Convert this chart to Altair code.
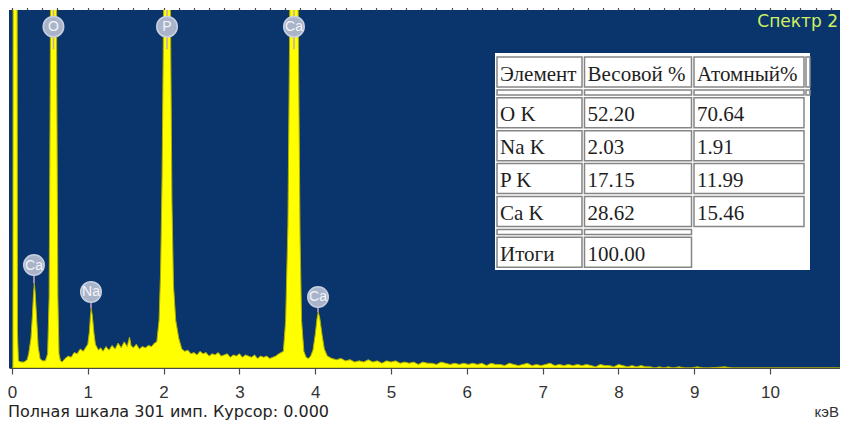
import altair as alt
import pandas as pd

# ---------------- data ----------------
# EDS spectrum: (energy keV, counts)
spectrum_points = [
    (0.000, 0), (0.012, 0), (0.018, 700), (0.062, 700), (0.072, 30), (0.085, 6),
    (0.12, 5), (0.16, 5), (0.20, 7),
    (0.22, 12), (0.25, 25), (0.27, 45), (0.285, 64), (0.295, 71), (0.305, 64),
    (0.325, 42), (0.345, 18), (0.37, 8), (0.40, 6),
    (0.44, 6), (0.47, 12), (0.49, 60), (0.505, 250), (0.52, 600), (0.575, 600),
    (0.59, 250), (0.605, 60), (0.62, 12), (0.64, 6),
    (0.66, 5), (0.70, 8), (0.74, 10), (0.78, 9), (0.82, 13), (0.86, 12),
    (0.90, 16), (0.94, 14), (0.98, 18),
    (1.00, 20), (1.02, 30), (1.035, 44), (1.045, 50), (1.06, 44), (1.08, 30),
    (1.10, 20), (1.14, 15), (1.17, 17), (1.20, 14), (1.24, 18), (1.28, 15),
    (1.32, 19), (1.36, 16), (1.40, 21), (1.44, 17), (1.48, 22), (1.52, 18),
    (1.55, 26), (1.57, 19), (1.60, 17), (1.64, 20), (1.68, 16), (1.72, 18),
    (1.76, 17), (1.80, 19), (1.84, 18), (1.88, 21),
    (1.91, 22), (1.94, 40), (1.96, 80), (1.98, 160), (2.00, 300), (2.015, 600),
    (2.075, 600), (2.09, 300), (2.11, 140), (2.13, 70), (2.16, 40), (2.20, 25),
    (2.24, 16), (2.28, 14), (2.32, 15), (2.36, 12),
    (2.40, 13), (2.44, 11), (2.48, 14), (2.52, 12), (2.56, 13), (2.60, 10),
    (2.64, 12), (2.68, 11), (2.72, 13), (2.76, 10), (2.80, 11), (2.84, 12),
    (2.88, 9), (2.92, 11), (2.96, 10), (3.00, 12), (3.04, 9), (3.08, 11),
    (3.12, 10), (3.16, 9), (3.20, 11), (3.24, 8), (3.28, 10), (3.32, 9),
    (3.36, 10), (3.40, 8), (3.44, 9), (3.48, 10), (3.52, 12),
    (3.58, 14), (3.61, 40), (3.64, 120), (3.665, 300), (3.68, 600), (3.76, 600),
    (3.775, 300), (3.80, 110), (3.82, 40), (3.85, 14),
    (3.88, 9), (3.91, 8), (3.94, 10), (3.97, 15), (4.00, 28), (4.025, 42),
    (4.04, 47), (4.06, 42), (4.09, 28), (4.12, 16), (4.16, 10), (4.22, 8),
    (4.28, 7), (4.34, 8), (4.40, 6),
    (4.46, 7), (4.52, 5), (4.58, 6), (4.64, 5), (4.70, 7), (4.76, 5),
    (4.82, 6), (4.88, 4), (4.94, 6), (5.00, 5), (5.06, 6), (5.12, 4),
    (5.18, 5), (5.24, 4), (5.30, 5), (5.36, 3), (5.42, 5), (5.48, 4),
    (5.54, 4), (5.60, 3), (5.66, 5), (5.72, 4), (5.78, 3), (5.84, 4),
    (5.90, 3), (5.96, 4), (6.02, 3), (6.08, 4), (6.14, 3), (6.20, 4),
    (6.26, 2), (6.32, 4), (6.38, 3), (6.44, 3), (6.50, 2), (6.56, 4),
    (6.62, 3), (6.68, 2), (6.74, 3), (6.80, 4), (6.86, 2), (6.92, 3),
    (6.98, 2), (7.04, 3), (7.10, 4), (7.16, 2), (7.22, 3), (7.28, 2),
    (7.34, 3), (7.40, 2), (7.46, 3), (7.52, 2), (7.58, 3), (7.64, 2),
    (7.70, 1), (7.76, 3), (7.82, 2), (7.88, 2), (7.94, 1), (8.00, 3),
    (8.06, 2), (8.12, 1), (8.18, 2), (8.24, 1), (8.30, 2), (8.36, 1),
    (8.42, 1), (8.48, 0), (8.54, 1), (8.60, 0), (8.66, 1), (8.72, 0),
    (8.80, 1), (8.88, 0), (8.96, 0), (9.04, 1), (9.12, 0), (9.20, 0),
    (9.40, 1), (9.50, 0), (10.92, 0),
]

# peak markers
peak_label_text = ["O", "P", "Ca", "Ca", "Na", "Ca"]
peak_label_kev = [0.547, 2.045, 3.72, 0.29, 1.042, 4.037]
peak_label_counts = [287, 287, 287, 86.6, 64, 59.7]
stick_from_counts = [268, 268, 268, 71, 50, 47]
stick_to_counts = [301, 301, 301, 86.6, 64, 59.7]

# result table
table_header = ["Элемент", "Весовой %", "Атомный%"]
table_elements = ["O K", "Na K", "P K", "Ca K"]
table_weight_pct = [52.20, 2.03, 17.15, 28.62]
table_atomic_pct = [70.64, 1.91, 11.99, 15.46]
table_total_label = "Итоги"
table_total_weight = 100.00

spectrum_name = "Спектр 2"
footer_text = "Полная шкала 301 имп. Курсор: 0.000"
unit_text = "кэВ"
full_scale = 301
major_ticks = list(range(0, 11))
minor_ticks = [round(i * 0.2, 1) for i in range(0, 55)]

# ---------------- styling / layout ----------------
BG = "#0a346c"
YEL = "#ffff00"
W, H = 831, 358
PX0, PY0 = 9, 10  # page offset of plot origin

spec_df = pd.DataFrame(spectrum_points, columns=["kev", "counts"])

xscale = alt.Scale(domain=[-0.0396, 10.923], nice=False, zero=False)
yscale = alt.Scale(domain=[0, full_scale], nice=False, zero=True)

major_axis = alt.Axis(
    values=major_ticks, format="d", grid=False, title=None,
    domainColor="#4a4a4a", tickColor="#4a4a4a", tickSize=6, tickWidth=1.2,
    labelFont="Liberation Sans", labelFontSize=17, labelColor="#333333",
    labelPadding=10, labelOverlap=False, labelFlush=False,
)
minor_axis = alt.Axis(
    values=minor_ticks, labels=False, grid=False, title=None, domain=False,
    tickColor="#4a4a4a", tickSize=3, tickWidth=1.2,
)
y_axis = alt.Axis(
    labels=False, ticks=False, grid=False, title=None,
    domainColor="#9a9a30", domainWidth=1.5,
)

area = alt.Chart(spec_df).mark_area(
    fill=YEL, stroke="#b0b000", strokeWidth=1, clip=True, interpolate="linear"
).encode(
    x=alt.X("kev:Q", scale=xscale, axis=major_axis),
    y=alt.Y("counts:Q", scale=yscale, axis=y_axis),
)
minor = alt.Chart(spec_df).mark_point(opacity=0).encode(
    x=alt.X("kev:Q", scale=xscale, axis=minor_axis),
    y=alt.Y("counts:Q", scale=yscale, axis=None),
)

lab_df = pd.DataFrame({
    "t": peak_label_text, "kev": peak_label_kev, "c": peak_label_counts,
    "s0": stick_from_counts, "s1": stick_to_counts,
})
sticks = alt.Chart(lab_df).mark_rule(color="#c4a8bc", strokeWidth=1.5, clip=True).encode(
    x=alt.X("kev:Q", axis=None), y=alt.Y("s0:Q", axis=None), y2="s1:Q"
)
circles = alt.Chart(lab_df).mark_point(
    shape="circle", filled=True, size=420, fill="#a9b4ca", stroke="#c8d0e0",
    strokeWidth=1.5, opacity=1,
).encode(x=alt.X("kev:Q", axis=None), y=alt.Y("c:Q", axis=None))
circ_text = alt.Chart(lab_df).mark_text(
    color="#f4f4f8", font="Liberation Sans", fontSize=14, baseline="middle",
    align="center", dy=0.5,
).encode(x=alt.X("kev:Q", axis=None), y=alt.Y("c:Q", axis=None), text="t:N")

# ---- table geometry (page coords) ----
t_left, t_top, t_right, t_bottom = 495, 53, 810, 270
col_left0, col_widths, col_gap = 497, [85, 107, 110], 2.5
row_top0, row_heights, row_gap = 57, [30, 5, 30, 30, 30, 30, 5, 30], 2.9

col_x = []
cx = col_left0
for w in col_widths:
    col_x.append((cx, cx + w))
    cx += w + col_gap
row_y = []
cy = row_top0
for h in row_heights:
    row_y.append((cy, cy + h))
    cy += h + row_gap

rows_text = [table_header, None]
for e, wp, ap in zip(table_elements, table_weight_pct, table_atomic_pct):
    rows_text.append([e, f"{wp:.2f}", f"{ap:.2f}"])
rows_text.append(None)
rows_text.append([table_total_label, f"{table_total_weight:.2f}"])
sep_cols = {1: 3, 6: 2}

cells, texts = [], []
for r, (y0, y1) in enumerate(row_y):
    vals = [None] * sep_cols[r] if rows_text[r] is None else rows_text[r]
    for c, v in enumerate(vals):
        x0, x1 = col_x[c]
        cells.append({"x": x0 - PX0, "x2": x1 - PX0, "y": y0 - PY0, "y2": y1 - PY0})
        if v is not None:
            texts.append({"x": x0 + 3 - PX0, "y": y0 + 23.5 - PY0, "t": v})
# stub of a cut-off fourth column
for r in (0, 1):
    cells.append({"x": 806 - PX0, "x2": 810 - PX0, "y": row_y[r][0] - PY0, "y2": row_y[r][1] - PY0})

bg_df = pd.DataFrame([{"x": t_left - PX0, "x2": t_right - PX0, "y": t_top - PY0, "y2": t_bottom - PY0}])
table_bg = alt.Chart(bg_df).mark_rect(fill="white").encode(
    x=alt.X("x:Q", scale=None, axis=None), x2="x2:Q",
    y=alt.Y("y:Q", scale=None, axis=None), y2="y2:Q",
)
table_cells = alt.Chart(pd.DataFrame(cells)).mark_rect(
    fill="white", stroke="#858585", strokeWidth=1.5
).encode(
    x=alt.X("x:Q", scale=None, axis=None), x2="x2:Q",
    y=alt.Y("y:Q", scale=None, axis=None), y2="y2:Q",
)
table_text = alt.Chart(pd.DataFrame(texts)).mark_text(
    font="Liberation Serif", fontSize=21, color="#1e1e1e", align="left", baseline="alphabetic"
).encode(
    x=alt.X("x:Q", scale=None, axis=None), y=alt.Y("y:Q", scale=None, axis=None), text="t:N"
)

spec_label = alt.Chart(pd.DataFrame({"t": [spectrum_name]})).mark_text(
    font="DejaVu Sans", fontSize=17, color="#d0f060", align="right", baseline="alphabetic"
).encode(x=alt.value(838 - PX0), y=alt.value(27 - PY0), text="t:N")

footer = alt.Chart(pd.DataFrame({"t": [footer_text]})).mark_text(
    font="DejaVu Sans", fontSize=16, color="#222222", align="left", baseline="alphabetic"
).encode(x=alt.value(8 - PX0), y=alt.value(417 - PY0), text="t:N")

unit = alt.Chart(pd.DataFrame({"t": [unit_text]})).mark_text(
    font="Liberation Sans", fontSize=15, color="#333333", align="right", baseline="alphabetic"
).encode(x=alt.value(839 - PX0), y=alt.value(417 - PY0), text="t:N")

chart = alt.layer(
    area, minor, sticks, circles, circ_text, table_bg, table_cells, table_text,
    spec_label, footer, unit,
).resolve_axis(x="independent").properties(
    width=W, height=H,
    autosize=alt.AutoSizeParams(type="none"),
    padding={"left": 1, "top": 2, "right": 0, "bottom": 52},
    background="white",
).configure_view(fill=BG, stroke=None)

chart.save("out.html", embed_options={"renderer": "svg", "actions": False})
